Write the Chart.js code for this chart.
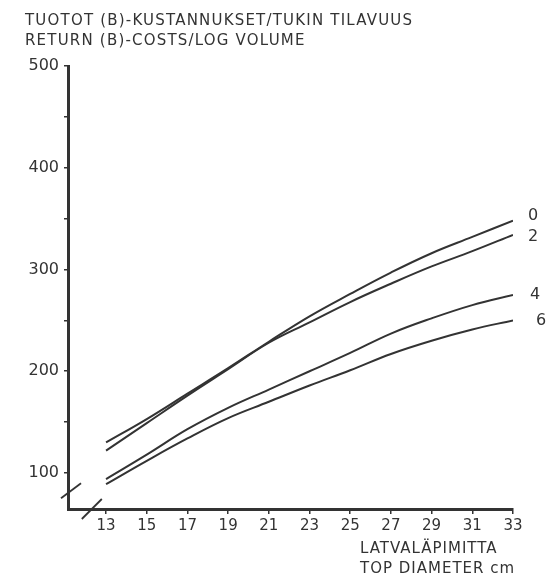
<!DOCTYPE html>
<html lang="fi">
<head>
<meta charset="UTF-8">
<title>Tuotot - kustannukset / tukin tilavuus</title>
<script src="https://cdn.jsdelivr.net/npm/chart.js"></script>
<style>
  html, body { margin: 0; padding: 0; background: #ffffff; }
  #wrap { width: 559px; height: 575px; position: relative; }
</style>
</head>
<body>
<div id="wrap"><canvas id="chart"></canvas></div>
<script>
  // top diameter (cm) and return (B) - costs per log volume for each curve
  const diameters = [13, 15, 17, 19, 21, 23, 25, 27, 29, 31, 33];
  const curve0 = [130, 153, 178, 203, 229, 254, 276, 297, 316, 332, 348];
  const curve2 = [122, 149, 176, 202, 228, 248, 268, 286, 303, 318, 334];
  const curve4 = [94, 118, 143, 164, 182, 200, 218, 237, 252, 265, 275];
  const curve6 = [89, 112, 134, 154, 170, 186, 201, 217, 230, 241, 250];
  const curveNames = ['0', '2', '4', '6'];

  const xTicks = [13, 15, 17, 19, 21, 23, 25, 27, 29, 31, 33];
  const yTicks = [100, 150, 200, 250, 300, 350, 400, 450, 500];
  const yLabelled = [100, 200, 300, 400, 500];

  const ink = '#333333';
  const fontFamily = "'DejaVu Sans', sans-serif";

  const textPlugin = {
    id: 'plotText',
    afterDraw(chart) {
      const ctx = chart.ctx;
      const xs = chart.scales.x;
      const ys = chart.scales.y;
      ctx.save();
      ctx.fillStyle = ink;
      ctx.strokeStyle = ink;

      // heading
      ctx.font = '15px ' + fontFamily;
      ctx.textAlign = 'left';
      ctx.textBaseline = 'middle';
      ctx.letterSpacing = '1.2px';
      ctx.fillText('TUOTOT (B)-KUSTANNUKSET/TUKIN TILAVUUS', 25, 21);
      ctx.fillText('RETURN (B)-COSTS/LOG VOLUME', 25, 41);

      // x axis title
      ctx.letterSpacing = '1px';
      ctx.fillText('LATVALÄPIMITTA', 360, 549);
      ctx.fillText('TOP DIAMETER cm', 360, 569);
      ctx.letterSpacing = '0px';

      // curve labels next to the line ends
      const offsets = [[15, -5], [15, 2], [17, 0], [23, 0]];
      ctx.font = '16px ' + fontFamily;
      chart.data.datasets.forEach((ds, i) => {
        const last = ds.data[ds.data.length - 1];
        const px = xs.getPixelForValue(last.x) + offsets[i][0];
        const py = ys.getPixelForValue(last.y) + offsets[i][1];
        ctx.fillText(curveNames[i], px, py);
      });

      // axis break marks
      ctx.lineWidth = 1.8;
      const bx = xs.left;
      const by = ys.getPixelForValue(82);
      ctx.beginPath();
      ctx.moveTo(bx - 7, by + 7);
      ctx.lineTo(bx + 13, by - 8);
      ctx.stroke();
      const cx = xs.getPixelForValue(12.3);
      const cy = ys.bottom;
      ctx.beginPath();
      ctx.moveTo(cx - 10, cy + 10);
      ctx.lineTo(cx + 10, cy - 10);
      ctx.stroke();
      ctx.restore();
    }
  };

  const makeSet = (values) => ({
    data: diameters.map((d, i) => ({ x: d, y: values[i] })),
    borderColor: ink,
    borderWidth: 2,
    pointRadius: 0,
    fill: false,
    tension: 0.4
  });

  new Chart(document.getElementById('chart'), {
    type: 'line',
    data: {
      datasets: [makeSet(curve0), makeSet(curve2), makeSet(curve4), makeSet(curve6)]
    },
    options: {
      responsive: true,
      maintainAspectRatio: false,
      animation: false,
      layout: { padding: { left: 0, top: 66, right: 46, bottom: 0 } },
      plugins: {
        legend: { display: false },
        tooltip: { enabled: false }
      },
      scales: {
        x: {
          type: 'linear',
          min: 11.13,
          max: 33,
          afterBuildTicks: (s) => { s.ticks = xTicks.map(v => ({ value: v })); },
          afterFit: (s) => { s.height = 66; },
          ticks: {
            autoSkip: false,
            maxRotation: 0,
            color: ink,
            padding: 3,
            font: { size: 15, family: fontFamily }
          },
          grid: { display: true, drawOnChartArea: false, drawTicks: true, tickLength: 5, color: ink, lineWidth: 1.5 },
          border: { display: true, color: ink, width: 3 }
        },
        y: {
          min: 64.6,
          max: 500,
          afterBuildTicks: (s) => { s.ticks = yTicks.map(v => ({ value: v })); },
          afterFit: (s) => { s.width = 68; },
          ticks: {
            autoSkip: false,
            color: ink,
            padding: 5,
            font: { size: 16, family: fontFamily },
            callback: (v) => yLabelled.includes(v) ? String(v) : ''
          },
          grid: { display: true, drawOnChartArea: false, drawTicks: true, tickLength: 4, color: ink, lineWidth: 1.5 },
          border: { display: true, color: ink, width: 3 }
        }
      }
    },
    plugins: [textPlugin]
  });
</script>
</body>
</html>
